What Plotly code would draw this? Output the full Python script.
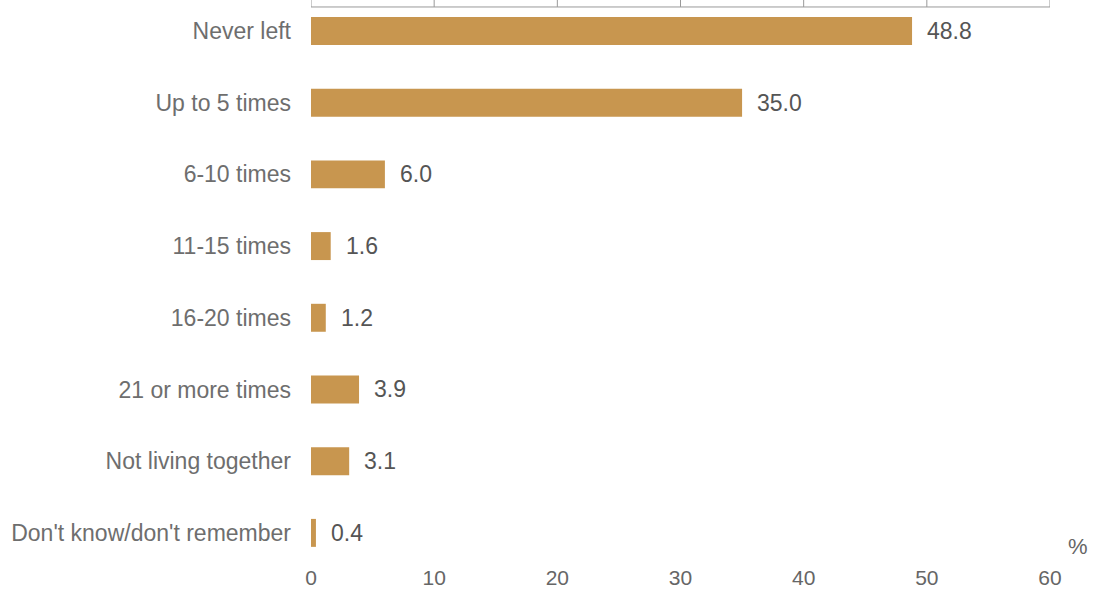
import plotly.graph_objects as go

categories = ["Never left", "Up to 5 times", "6-10 times", "11-15 times", "16-20 times",
              "21 or more times", "Not living together", "Don't know/don't remember"]
values = [48.8, 35.0, 6.0, 1.6, 1.2, 3.9, 3.1, 0.4]
x_ticks = [0, 10, 20, 30, 40, 50, 60]

positions = list(range(len(categories)))
bar_color = "#C8964F"
FONT = "Liberation Sans, Arial, sans-serif"

fig = go.Figure()
fig.add_trace(go.Bar(
    x=values, y=positions, orientation="h",
    marker=dict(color=bar_color, line=dict(width=0)),
    width=0.39,
))

annotations = []
for v, p in zip(values, positions):
    annotations.append(dict(text=f"{v:.1f}", x=v, y=p, xref="x", yref="y", showarrow=False,
                            xanchor="left", yanchor="middle", xshift=13,
                            font=dict(size=23, color="#555555", family=FONT)))
annotations.append(dict(text="%", xref="paper", yref="paper", x=1.038, y=0.03, showarrow=False,
                        xanchor="center", yanchor="middle",
                        font=dict(size=22, color="#666666", family=FONT)))

shapes = [dict(type="rect", xref="x", yref="paper", x0=0, x1=60, y0=0.9876, y1=1.05,
               line=dict(color="#999999", width=1), fillcolor="rgba(0,0,0,0)")]
for xv in x_ticks[1:-1]:
    shapes.append(dict(type="line", xref="x", yref="paper", x0=xv, x1=xv, y0=0.9876, y1=1.05,
                       line=dict(color="#999999", width=1)))

fig.update_layout(
    width=1093, height=590,
    margin=dict(l=311, r=43, t=0, b=27),
    paper_bgcolor="white", plot_bgcolor="white",
    showlegend=False,
    font=dict(family=FONT, size=20, color="#666666"),
    shapes=shapes,
    annotations=annotations,
    xaxis=dict(range=[0, 60], tickvals=x_ticks, showgrid=False, zeroline=False,
               showline=False, ticks="", tickfont=dict(size=21, color="#666666")),
    yaxis=dict(range=[7.42, -0.432], tickvals=positions, ticktext=categories,
               showgrid=False, zeroline=False, showline=False, ticks="",
               ticklabelstandoff=19, tickfont=dict(size=23, color="#6e6e6e")),
)

fig.write_html("out.html", config={"displayModeBar": False},
               post_script="document.body.style.margin='0';")
